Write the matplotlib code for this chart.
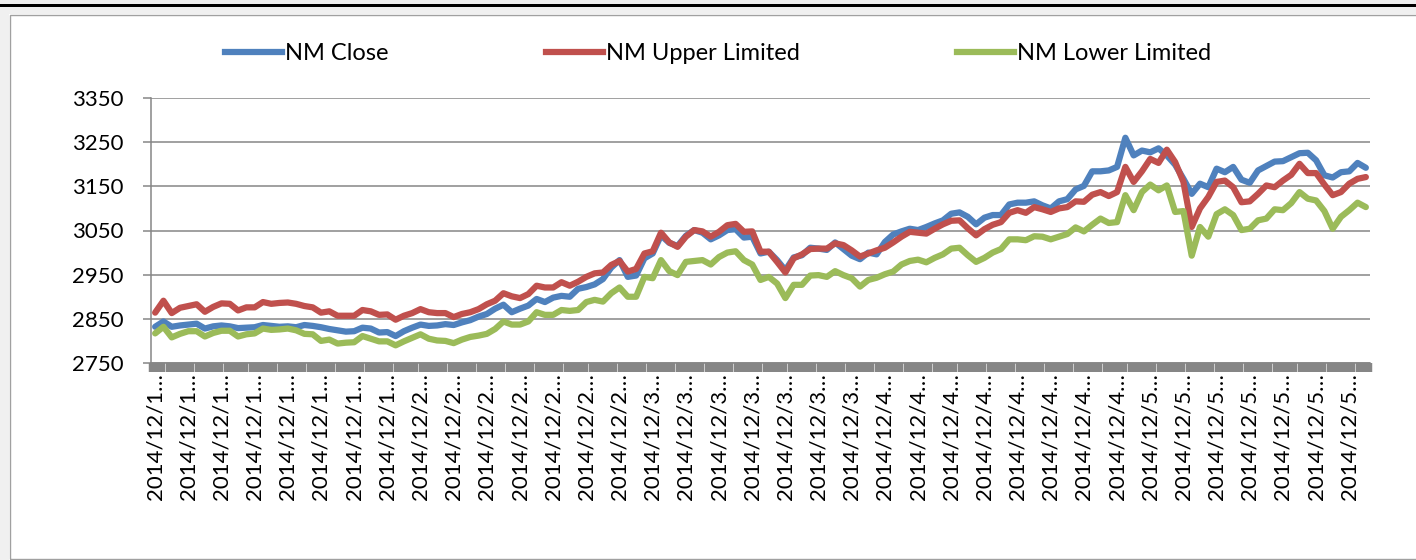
import numpy as np
import matplotlib
matplotlib.use("Agg")
import matplotlib.pyplot as plt
from matplotlib.patches import Rectangle
from matplotlib.lines import Line2D

# values (147 points each)
nm_close = [2832, 2844, 2832, 2835, 2837, 2839, 2828, 2833, 2835, 2833,
            2829, 2830, 2831, 2836, 2834, 2832, 2833, 2831, 2836, 2834,
            2831, 2827, 2824, 2821, 2822, 2830, 2828, 2819, 2820, 2811,
            2822, 2830, 2837, 2834, 2835, 2838, 2836, 2842, 2847, 2855,
            2861, 2873, 2882, 2865, 2873, 2880, 2895, 2888, 2898, 2902,
            2900, 2918, 2922, 2928, 2940, 2966, 2983, 2945, 2948, 2987,
            2998, 3039, 3022, 3015, 3038, 3051, 3045, 3030, 3039, 3051,
            3053, 3034, 3036, 2998, 3002, 2983, 2960, 2989, 2994, 3011,
            3009, 3006, 3023, 3008, 2993, 2985, 3000, 2996, 3024, 3041,
            3048, 3054, 3051, 3058, 3066, 3073, 3088, 3091, 3081, 3064,
            3079, 3085, 3085, 3109, 3113, 3113, 3116, 3107, 3100, 3116,
            3121, 3143, 3151, 3184, 3184, 3186, 3194, 3260, 3220, 3231,
            3227, 3236, 3220, 3199, 3167, 3133, 3156, 3148, 3190, 3182,
            3194, 3165, 3158, 3186, 3196, 3206, 3207, 3216, 3225, 3226,
            3209, 3175, 3170, 3182, 3184, 3203, 3192]

nm_upper = [2864, 2891, 2863, 2875, 2879, 2883, 2866, 2877, 2885, 2884,
            2869, 2876, 2876, 2888, 2884, 2886, 2887, 2884, 2879, 2876,
            2864, 2867, 2857, 2857, 2857, 2870, 2867, 2859, 2860, 2848,
            2857, 2863, 2872, 2865, 2863, 2863, 2854, 2861, 2865, 2872,
            2883, 2891, 2908, 2901, 2897, 2906, 2925, 2921, 2921, 2933,
            2925, 2934, 2945, 2953, 2955, 2972, 2981, 2957, 2963, 2998,
            3003, 3045, 3023, 3013, 3036, 3051, 3048, 3036, 3047, 3062,
            3065, 3047, 3048, 3002, 3002, 2979, 2955, 2987, 2996, 3008,
            3009, 3009, 3021, 3017, 3005, 2991, 2998, 3005, 3011, 3023,
            3036, 3047, 3045, 3043, 3054, 3064, 3072, 3073, 3055, 3039,
            3053, 3063, 3069, 3090, 3096, 3090, 3103, 3098, 3092, 3100,
            3103, 3116, 3115, 3131, 3137, 3128, 3137, 3194, 3160, 3184,
            3212, 3203, 3233, 3205, 3160, 3058, 3100, 3126, 3160, 3163,
            3148, 3114, 3116, 3133, 3152, 3148, 3163, 3176, 3201, 3180,
            3180, 3154, 3130, 3137, 3156, 3167, 3171]

nm_lower = [2817, 2832, 2808, 2816, 2822, 2822, 2810, 2818, 2823, 2823,
            2810, 2815, 2817, 2828, 2825, 2826, 2828, 2824, 2816, 2815,
            2800, 2803, 2794, 2796, 2797, 2811, 2805, 2799, 2799, 2790,
            2799, 2807, 2815, 2805, 2801, 2800, 2795, 2803, 2809, 2812,
            2816, 2827, 2844, 2837, 2837, 2844, 2865, 2859, 2859, 2870,
            2868, 2870, 2888, 2893, 2889, 2908, 2921, 2900, 2900, 2945,
            2942, 2983, 2958, 2949, 2979, 2981, 2983, 2973, 2990, 3000,
            3003, 2983, 2973, 2938, 2945, 2930, 2897, 2927, 2927, 2948,
            2949, 2945, 2958, 2949, 2942, 2923, 2938, 2943, 2951, 2957,
            2973, 2981, 2984, 2978, 2988, 2996, 3009, 3011, 2994, 2979,
            2988, 3000, 3008, 3030, 3030, 3028, 3037, 3036, 3030, 3036,
            3042, 3057, 3048, 3063, 3077, 3067, 3069, 3130, 3096, 3137,
            3154, 3141, 3152, 3092, 3094, 2993, 3058, 3036, 3087, 3098,
            3085, 3051, 3054, 3073, 3077, 3098, 3096, 3112, 3137, 3122,
            3118, 3094, 3054, 3081, 3096, 3113, 3103]

# one visible label every 4 points
tick_labels = (['2014/12/1…'] * 8 + ['2014/12/2…'] * 7 + ['2014/12/3…'] * 7
               + ['2014/12/4…'] * 8 + ['2014/12/5…'] * 7)
label_step = 4

series_names = ['NM Close', 'NM Upper Limited', 'NM Lower Limited']
colors = ['#4F81BD', '#C0504D', '#9BBB59']

plt.rcParams['font.family'] = ['Lato', 'DejaVu Sans']

W, H = 1416, 560
fig = plt.figure(figsize=(W / 100, H / 100), dpi=100)
fig.patch.set_facecolor('white')

# window-ish frame around the chart
def px_rect(x, y, w, h, **kw):
    fig.add_artist(Rectangle((x / W, 1 - (y + h) / H), w / W, h / H,
                             transform=fig.transFigure, **kw))

px_rect(0, 0, W, 14, facecolor='#f0f0f0', edgecolor='none')
px_rect(0, 0, 9, H, facecolor='#f0f0f0', edgecolor='none')
px_rect(0, 4, W, 3, facecolor='black', edgecolor='none')
px_rect(9.5, 14.5, W, H - 16, facecolor='none', edgecolor='#a0a0a0', lw=1)

ax = fig.add_axes([151 / W, 1 - 363 / H, (1370 - 151) / W, (363 - 98) / H])

x = np.arange(len(nm_close))
for vals, name, c in zip([nm_close, nm_upper, nm_lower], series_names, colors):
    ax.plot(x, vals, color=c, lw=4.5, label=name, solid_joinstyle='round',
            solid_capstyle='round')

ax.set_xlim(-0.5, len(x) - 0.5)
ax.set_ylim(2750, 3350)
ax.set_yticks(np.arange(2750, 3351, 100))
ax.yaxis.grid(True, color='#868686', lw=1.1)
ax.set_axisbelow(True)

for s in ['top', 'right']:
    ax.spines[s].set_visible(False)
for s in ['left', 'bottom']:
    ax.spines[s].set_color('#868686')
    ax.spines[s].set_linewidth(1.1)

ax.tick_params(axis='y', direction='out', length=5.8, width=1.1,
               color='#868686', labelsize=16, pad=14)

ax.set_xticks(x[::label_step])
ax.set_xticklabels(tick_labels, rotation=90, fontsize=16)
ax.set_xticks(np.arange(-0.5, len(x), 0.5), minor=True)
ax.tick_params(axis='x', which='both', direction='out', length=6.5,
               width=3.2, color='#868686', pad=1)

handles = [Line2D([], [], color=c, lw=4.5) for c in colors]
fig.legend(handles, series_names, loc='center', bbox_to_anchor=(0.507, 0.9036),
           ncol=3, frameon=False, fontsize=17, handlelength=2.42,
           handletextpad=0.13, columnspacing=6.65)

fig.savefig('out.png', dpi=100)
